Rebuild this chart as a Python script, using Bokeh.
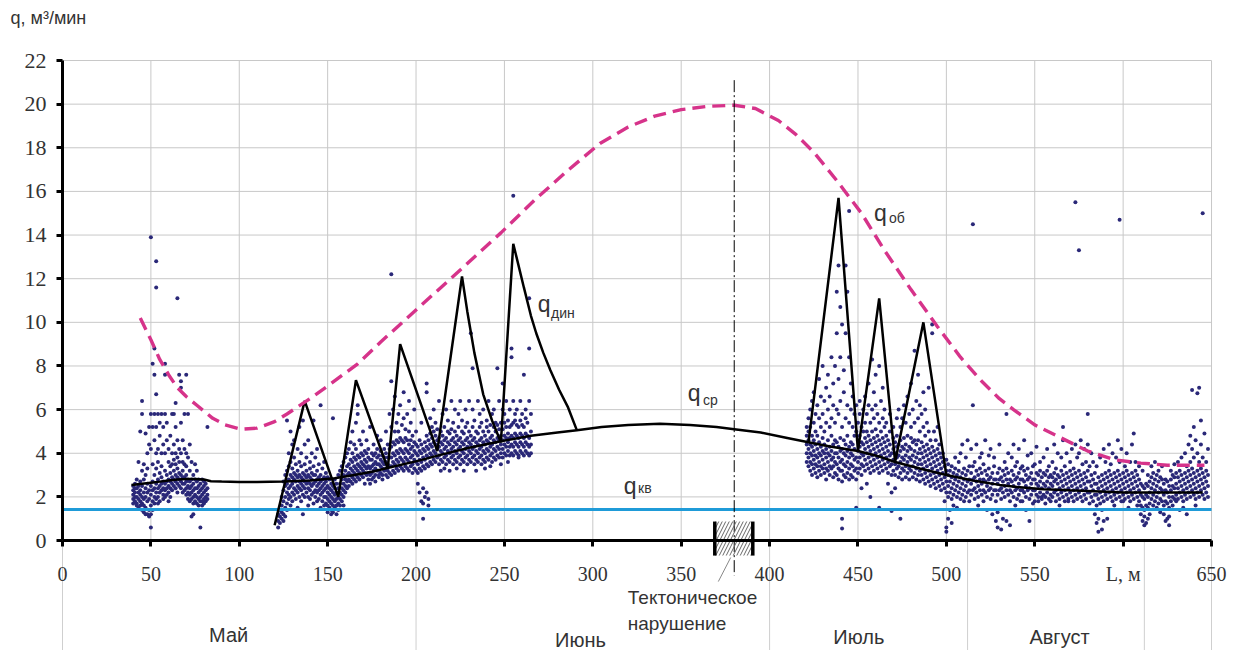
from bokeh.plotting import figure
from bokeh.models import Range1d, LinearAxis, FixedTicker, Label
from bokeh.core.properties import value
from bokeh.embed import file_html
from bokeh.resources import INLINE

# ---------------- data ----------------
x_ticks = [0, 50, 100, 150, 200, 250, 300, 350, 400, 450, 500, 550, 600, 650]
y_ticks = [0, 2, 4, 6, 8, 10, 12, 14, 16, 18, 20, 22]
month_bounds = [0, 200, 400, 512, 612, 650]
month_names = ["Май", "Июнь", "Июль", "Август"]
month_centers = [94, 293, 450.5, 564]
month_levels = [-4.35, -4.58, -4.40, -4.40]

q_kv = 1.42

q_ob_L = [44, 50, 55, 60, 65, 70, 76, 85, 92, 101, 110, 120, 127, 140, 152, 167, 180, 195,
          210, 225, 248, 267, 285, 304, 320, 335, 350, 365, 380, 392, 405, 415, 425, 438,
          452, 465, 480, 495, 508, 520, 530, 538, 550, 565, 580, 595, 610, 625, 646]
q_ob = [10.2, 9.2, 8.3, 7.6, 7.0, 6.6, 6.2, 5.6, 5.3, 5.1, 5.15, 5.45, 5.8, 6.5, 7.2, 8.1, 9.1, 10.2,
        11.3, 12.4, 14.1, 15.6, 16.9, 18.2, 18.95, 19.45, 19.75, 19.9, 19.95, 19.8, 19.25, 18.6, 17.8, 16.5,
        15.0, 13.3, 11.5, 9.8, 8.4, 7.3, 6.5, 6.0, 5.3, 4.7, 4.1, 3.7, 3.55, 3.45, 3.45]

q_sr_L = [39, 45, 50, 55, 60, 65, 70, 75, 80, 84, 90, 100, 110, 125, 140, 154, 165, 175, 185,
          201, 215, 230, 248, 265, 280, 291, 305, 320, 338, 355, 370, 380, 395, 410, 422, 435,
          450, 462, 471, 485, 500, 515, 530, 540, 555, 570, 587, 600, 620, 645]
q_sr = [2.55, 2.6, 2.65, 2.7, 2.75, 2.8, 2.82, 2.82, 2.8, 2.72, 2.7, 2.68, 2.68, 2.7, 2.75, 2.85, 3.0,
        3.15, 3.35, 3.65, 3.95, 4.25, 4.55, 4.8, 4.95, 5.05, 5.2, 5.3, 5.35, 5.3, 5.2, 5.1, 4.95, 4.7,
        4.5, 4.3, 4.1, 3.85, 3.6, 3.3, 3.0, 2.75, 2.55, 2.45, 2.35, 2.3, 2.25, 2.2, 2.2, 2.2]

q_din_L = [120, 137, 156, 166, 184, 191, 212, 226, 229, 233, 238, 243, 248, 255, 258, 261, 265,
           268, 272, 276, 281, 286, 291]
q_din = [0.7, 6.4, 2.0, 7.35, 3.3, 9.0, 4.1, 12.1, 10.5, 8.6, 6.7, 5.5, 4.5, 13.6, 12.6, 11.6, 10.3,
         9.5, 8.6, 7.8, 6.9, 6.1, 5.05]
q_din2_L = [422, 439, 450, 462, 471, 487, 500]
q_din2 = [4.5, 15.7, 4.1, 11.1, 3.6, 10.0, 3.0]

fault_L = 380
fault_start, fault_end = 369, 390.5

# measured points: (L, [q values at that L])
may_cols = [
    (40, [2.5, 2.3, 2.1, 1.9, 1.7]), (41, [2.6, 2.2, 2.0, 1.8, 2.4]), (42, [2.4, 2.0, 1.7, 1.6, 2.8]),
    (43, [2.5, 2.2, 1.9, 1.5, 3.6]), (44, [2.3, 2.1, 1.8, 1.6, 5.0, 2.7]),
    (45, [2.5, 2.0, 1.7, 1.4, 5.8, 6.4, 3.2]), (46, [2.2, 1.9, 1.6, 1.3, 2.8, 3.5]),
    (47, [2.4, 2.0, 1.5, 1.2, 4.9, 3.0]), (48, [2.6, 2.2, 1.8, 1.2, 4.0, 3.3]),
    (49, [2.3, 1.9, 1.4, 1.1, 4.4, 5.2]), (50, [2.5, 2.1, 1.6, 1.2, 13.9, 5.8, 4.2, 0.6]),
    (51, [2.7, 2.3, 1.8, 1.4, 5.2, 8.1, 3.5]), (52, [2.4, 2.0, 1.7, 4.6, 5.8, 7.6, 8.8, 3.0]),
    (53, [2.6, 2.2, 1.9, 12.8, 11.6, 5.2, 6.7, 4.0, 3.3]), (54, [2.8, 2.4, 2.0, 4.2, 5.8, 3.6, 1.7]),
    (55, [2.5, 2.2, 1.8, 4.8, 5.4, 3.1]), (56, [2.9, 2.6, 2.3, 4.0, 5.8, 3.4]),
    (57, [2.7, 2.4, 2.1, 4.4, 5.2, 1.9]), (58, [2.6, 2.3, 2.0, 8.1, 7.6, 4.0, 5.8, 3.2]),
    (59, [3.0, 2.7, 2.4, 2.1, 4.6, 5.4]), (60, [2.8, 2.5, 2.2, 3.6, 4.2, 1.8]),
    (61, [3.1, 2.7, 2.4, 3.4, 4.8, 2.0]), (62, [2.9, 2.6, 2.3, 4.0, 5.8, 3.5]),
    (63, [3.2, 2.8, 2.5, 3.7, 4.4, 5.8]), (64, [3.0, 2.7, 2.4, 6.3, 5.2, 3.5, 4.0]),
    (65, [3.3, 2.9, 2.6, 11.1, 4.6, 3.8, 2.2]), (66, [3.1, 2.8, 2.5, 7.6, 4.2, 3.6]),
    (67, [3.0, 2.7, 2.4, 7.0, 7.3, 4.0, 5.4]), (68, [3.2, 2.9, 2.6, 3.6, 4.6, 2.2]),
    (69, [2.9, 2.6, 2.3, 3.5, 4.2, 5.8]), (70, [3.0, 2.7, 2.4, 7.6, 4.0, 3.4, 2.1]),
    (71, [2.8, 2.5, 2.2, 3.8, 5.8, 1.9]), (72, [2.7, 2.4, 2.1, 1.8, 4.4, 3.2]),
    (73, [2.5, 2.2, 1.9, 1.1, 3.6, 2.8]), (74, [2.6, 2.3, 2.0, 1.2, 1.7, 3.0]),
    (75, [2.4, 2.1, 1.8, 2.8, 3.5]), (76, [2.7, 2.4, 2.0, 1.7, 3.2]), (77, [2.5, 2.2, 1.9, 2.8, 1.6]),
    (78, [2.6, 2.3, 2.0, 0.6, 1.8]), (79, [2.4, 2.1, 1.8, 1.6, 2.8]), (80, [2.5, 2.2, 1.9, 1.7, 2.7]),
    (81, [2.3, 2.0, 1.8, 2.6]), (82, [2.4, 2.1, 5.2, 1.9]),
]

june_cols = [
    (122, [0.6, 0.9, 1.2]), (123, [0.8, 1.4, 1.1]), (124, [1.0, 1.6, 2.0, 1.3]),
    (125, [1.2, 1.8, 2.3, 2.7, 0.9]), (126, [1.5, 2.0, 2.5, 3.0, 1.1]),
    (127, [1.7, 2.2, 2.6, 3.2, 5.5, 1.4]), (128, [1.9, 2.4, 2.8, 3.4, 4.0, 2.1]),
    (129, [2.0, 2.5, 3.0, 3.6, 5.0, 1.6]), (130, [2.2, 2.6, 2.9, 3.3, 4.4, 1.8]),
    (131, [2.1, 2.4, 2.8, 3.1, 3.8, 4.6]), (132, [2.3, 2.7, 3.0, 3.5, 1.9]),
    (133, [2.2, 2.5, 2.9, 3.2, 4.2, 1.5]), (134, [2.0, 2.4, 2.7, 3.0, 3.6, 5.2]),
    (135, [2.3, 2.6, 2.9, 3.4, 4.0, 1.8]), (136, [2.1, 2.5, 2.8, 3.1, 5.5, 1.2]),
    (137, [2.4, 2.7, 3.0, 3.5, 4.4, 2.0]), (138, [2.2, 2.6, 2.9, 3.2, 3.8]),
    (139, [2.0, 2.4, 2.7, 3.0, 4.6, 1.6]), (140, [2.3, 2.6, 2.9, 3.3, 3.6, 1.9]),
    (141, [2.1, 2.5, 2.8, 3.1, 4.0]), (142, [2.2, 2.6, 3.0, 3.4, 5.5, 1.7]),
    (143, [2.0, 2.3, 2.7, 3.0, 3.8]), (144, [2.2, 2.5, 2.8, 3.2, 4.2, 1.8]),
    (145, [1.9, 2.3, 2.6, 2.9, 3.5]), (146, [2.1, 2.4, 2.7, 3.0, 6.2, 1.5]),
    (147, [1.8, 2.2, 2.5, 2.8, 3.3]), (148, [2.0, 2.3, 2.6, 2.9, 3.6, 1.6]),
    (149, [1.7, 2.0, 2.4, 2.7, 3.1]), (150, [1.6, 1.9, 2.2, 2.5, 2.9, 1.3]),
    (151, [1.5, 1.8, 2.1, 2.4, 2.8]), (152, [1.4, 1.7, 2.0, 2.3, 2.6, 1.2]),
    (153, [1.6, 1.9, 2.2, 2.5, 5.6, 1.3]), (154, [1.5, 1.8, 2.1, 2.4, 2.8]),
    (155, [1.2, 1.6, 1.9, 2.2, 2.6]), (156, [1.4, 1.7, 2.0, 2.4, 3.0]),
    (157, [1.6, 1.9, 2.2, 2.6, 3.2]), (158, [1.8, 2.1, 2.4, 2.8, 3.4]),
    (159, [2.0, 2.3, 2.6, 3.0, 3.6, 1.6]), (160, [2.2, 2.5, 2.8, 3.2, 3.8]),
    (161, [2.4, 2.7, 3.0, 3.4, 4.0]), (162, [2.5, 2.8, 3.1, 3.5, 4.2]),
    (163, [2.7, 3.0, 3.3, 3.7, 4.5]), (164, [2.6, 2.9, 3.2, 3.6, 4.0, 5.0]),
    (165, [2.8, 3.1, 3.4, 3.8, 4.4]), (166, [2.7, 3.0, 3.3, 3.7, 4.2, 5.4]),
    (167, [2.9, 3.2, 3.5, 3.9, 6.2, 5.8]), (168, [2.8, 3.1, 3.4, 3.8, 4.6]),
    (169, [3.0, 3.3, 3.6, 4.0, 4.4]), (170, [2.9, 3.2, 3.5, 3.9, 5.0]),
    (171, [3.1, 3.4, 3.7, 4.1, 2.6]), (172, [3.0, 3.3, 3.6, 4.0, 4.6]),
    (173, [2.8, 3.1, 3.4, 3.8, 4.2]), (174, [2.6, 3.0, 3.3, 3.7, 5.2]),
    (175, [3.1, 3.4, 3.7, 4.0, 2.8]), (176, [2.9, 3.2, 3.5, 3.9, 4.4]),
    (177, [3.0, 3.3, 3.6, 4.0, 2.7]), (178, [3.2, 3.5, 3.8, 4.2, 4.8]),
    (179, [2.9, 3.2, 3.5, 3.9, 3.0]), (180, [3.1, 3.4, 3.7, 4.1, 4.6]),
    (181, [3.0, 3.3, 3.6, 3.9, 2.8]), (182, [3.2, 3.5, 3.8, 4.2]),
    (183, [3.0, 3.3, 3.6, 4.0, 5.0]), (184, [2.9, 3.2, 3.5, 3.8, 4.4]),
    (185, [3.1, 3.4, 3.8, 4.2, 5.8]), (186, [3.0, 3.4, 3.8, 4.3, 12.2, 7.3, 5.2]),
    (187, [3.2, 3.6, 4.0, 4.5, 6.0]), (188, [3.1, 3.5, 3.9, 4.4, 5.0, 6.6]),
    (189, [3.3, 3.7, 4.1, 4.6, 5.4]), (190, [3.2, 3.6, 4.0, 4.5, 5.0, 5.8]),
    (191, [3.4, 3.8, 4.2, 4.7, 6.2]), (192, [3.3, 3.7, 4.1, 4.6, 5.3]),
    (193, [3.2, 3.6, 4.0, 4.5, 5.6, 6.8]), (194, [3.4, 3.8, 4.2, 4.7, 5.1]),
    (195, [3.3, 3.7, 4.1, 4.6, 5.8]), (196, [3.2, 3.6, 4.0, 4.4, 6.4, 5.0]),
    (197, [3.4, 3.8, 4.2, 4.6, 5.4]), (198, [3.1, 3.5, 3.9, 4.3, 4.8]),
    (199, [3.3, 3.7, 4.1, 4.5, 6.0]), (200, [3.2, 3.6, 4.0, 4.4, 5.0]),
    (201, [3.1, 3.5, 3.9, 4.3, 2.6]), (202, [3.3, 3.7, 4.1, 4.6, 2.2]),
    (203, [3.2, 3.6, 4.0, 4.4, 1.8, 5.4]), (204, [3.4, 3.8, 4.2, 2.4, 1.7, 1.0]),
    (205, [3.3, 3.7, 4.1, 4.5, 2.0]), (206, [3.5, 3.9, 4.3, 4.8, 2.2, 7.2, 6.8]),
    (207, [3.4, 3.8, 4.2, 4.6, 1.9, 1.6]), (208, [3.6, 4.0, 4.4, 4.9, 5.6]),
    (209, [3.5, 3.9, 4.3, 4.7, 5.2]), (210, [3.7, 4.1, 4.5, 5.0, 6.0]),
    (211, [3.6, 4.0, 4.4, 4.8, 5.4]), (212, [3.8, 4.2, 4.6, 5.1]),
    (213, [3.5, 3.9, 4.3, 4.7, 6.4]), (214, [3.7, 4.1, 4.5, 5.0, 3.2]),
    (215, [3.6, 4.0, 4.4, 4.8, 5.8]), (216, [3.8, 4.2, 4.6, 5.2, 3.3]),
    (217, [3.5, 3.9, 4.3, 4.7, 6.0]), (218, [3.7, 4.1, 4.5, 5.0, 5.5]),
    (219, [3.6, 4.0, 4.4, 4.9, 3.2]), (220, [3.8, 4.2, 4.6, 5.1, 6.4]),
    (221, [3.5, 3.9, 4.3, 4.7, 5.4]), (222, [3.7, 4.1, 4.5, 5.0, 6.0]),
    (223, [3.6, 4.0, 4.4, 4.8, 3.3]), (224, [3.8, 4.2, 4.6, 5.2, 5.8]),
    (225, [3.5, 3.9, 4.3, 4.7, 6.4]), (226, [3.7, 4.1, 4.5, 5.0, 5.5]),
    (227, [3.6, 4.0, 4.4, 4.9, 3.2]), (228, [3.8, 4.2, 4.6, 5.2, 6.0]),
    (229, [3.5, 3.9, 4.3, 4.7, 5.4]), (230, [3.7, 4.1, 4.5, 5.0, 6.4]),
    (231, [3.6, 4.0, 4.4, 4.8, 9.5]), (232, [3.8, 4.2, 4.6, 5.2, 7.9, 6.0]),
    (233, [3.5, 3.9, 4.3, 4.7, 5.5]), (234, [3.7, 4.1, 4.5, 5.0, 3.2]),
    (235, [3.6, 4.0, 4.4, 4.9, 6.4]), (236, [3.8, 4.2, 4.6, 5.2, 5.8]),
    (237, [3.5, 3.9, 4.3, 4.7, 5.4]), (238, [3.7, 4.1, 4.5, 5.0, 6.0]),
    (239, [3.6, 4.0, 4.4, 4.8, 3.3]), (240, [3.8, 4.2, 4.6, 5.2, 5.5]),
    (241, [3.7, 4.1, 4.5, 5.0, 6.4]), (242, [3.9, 4.3, 4.7, 5.3, 3.4]),
    (243, [3.6, 4.0, 4.4, 4.8, 5.8]), (244, [3.8, 4.2, 4.6, 5.2, 6.0]),
    (245, [3.7, 4.1, 4.5, 5.0, 5.4]), (246, [3.9, 4.3, 4.7, 5.3, 7.9]),
    (247, [3.8, 4.2, 4.6, 5.1, 6.4]), (248, [4.0, 4.4, 4.8, 5.4, 3.5]),
    (249, [3.8, 4.2, 4.6, 5.1, 7.2, 6.0]), (250, [4.0, 4.4, 4.8, 5.4, 5.8]),
    (251, [3.9, 4.3, 4.7, 5.2, 6.4]), (252, [4.1, 4.5, 4.9, 5.5, 3.6]),
    (253, [3.9, 4.3, 4.7, 5.2, 6.0]), (254, [4.0, 4.4, 4.8, 5.3, 8.8, 8.4]),
    (255, [3.9, 4.3, 4.7, 5.4, 15.8, 6.4]), (256, [4.1, 4.5, 4.9, 5.5, 5.8]),
    (257, [4.0, 4.4, 4.8, 5.3, 6.0]), (258, [3.9, 4.3, 4.7, 5.2, 3.8]),
    (259, [4.1, 4.5, 4.9, 5.5, 6.4]), (260, [4.0, 4.4, 4.8, 5.3, 5.8]),
    (261, [3.9, 4.3, 4.7, 5.2, 7.6]), (262, [4.1, 4.5, 4.9, 5.6, 6.0]),
    (263, [4.0, 4.4, 4.8, 5.4]), (264, [3.9, 4.3, 4.7, 11.1, 8.8, 6.4]),
    (265, [4.0, 4.4, 5.0, 5.8]),
]

july_cols = [
    (421, [4.0, 4.4, 4.8, 5.2, 3.6]), (422, [3.4, 3.8, 4.2, 4.6, 5.0, 5.6]),
    (423, [3.2, 3.6, 4.0, 4.4, 5.2, 6.0]), (424, [3.0, 3.5, 3.9, 4.3, 4.8, 6.4]),
    (425, [3.3, 3.7, 4.1, 4.6, 5.4, 6.8]), (426, [3.1, 3.5, 3.9, 4.4, 5.0, 5.8]),
    (427, [2.9, 3.4, 3.8, 4.2, 4.8, 6.2]), (428, [3.2, 3.6, 4.0, 4.5, 5.6, 7.4]),
    (429, [3.0, 3.4, 3.9, 4.3, 5.2, 6.6]), (430, [3.3, 3.7, 4.1, 4.7, 5.8, 8.0]),
    (431, [3.1, 3.5, 4.0, 4.4, 5.0, 6.4]), (432, [2.8, 3.3, 3.8, 4.2, 5.4, 7.0]),
    (433, [3.2, 3.6, 4.0, 4.6, 6.0, 7.6]), (434, [3.0, 3.4, 3.9, 4.3, 5.2, 6.6]),
    (435, [3.3, 3.7, 4.1, 4.8, 5.6, 8.4]), (436, [2.9, 3.4, 3.8, 4.4, 6.2, 7.2]),
    (437, [3.1, 3.6, 4.0, 4.6, 5.4, 8.0]), (438, [3.0, 3.5, 4.0, 4.5, 6.0, 9.5, 11.4]),
    (439, [2.8, 3.3, 3.8, 4.3, 5.8, 7.4, 12.6]), (440, [3.2, 3.6, 4.1, 4.7, 6.4, 8.4, 10.7]),
    (441, [2.7, 3.2, 3.7, 4.2, 5.2, 1.0, 0.55, 9.9]), (442, [3.0, 3.5, 4.0, 4.6, 6.8, 7.8]),
    (443, [2.9, 3.4, 3.9, 4.4, 5.6, 9.5, 12.6]), (444, [3.1, 3.6, 4.1, 4.8, 6.2, 11.4]),
    (445, [2.8, 3.3, 3.8, 4.3, 5.4, 15.1, 8.4]), (446, [3.0, 3.5, 4.0, 4.5, 6.0, 7.2]),
    (447, [2.9, 3.4, 3.9, 4.4, 5.2, 6.6]), (448, [3.2, 3.7, 4.2, 4.8, 5.8]),
    (449, [2.8, 3.3, 3.8, 1.5, 5.0, 6.2]), (450, [3.1, 3.6, 4.1, 4.6, 5.4]),
    (451, [3.3, 3.8, 4.3, 4.8, 5.8, 6.4]), (452, [3.0, 3.5, 4.0, 4.5, 5.2, 2.4]),
    (453, [3.4, 3.9, 4.4, 5.0, 6.0]), (454, [3.2, 3.7, 4.2, 4.7, 5.4, 6.6]),
    (455, [3.5, 4.0, 4.5, 5.0, 5.8, 2.6]), (456, [3.3, 3.8, 4.3, 4.8, 6.2, 7.2]),
    (457, [3.1, 3.6, 4.1, 4.6, 5.4, 2.0]), (458, [3.4, 3.9, 4.4, 5.0, 6.0, 8.3]),
    (459, [3.2, 3.7, 4.2, 4.7, 5.6, 6.8]), (460, [3.5, 4.0, 4.5, 5.1, 6.2, 7.6]),
    (461, [3.3, 3.8, 4.3, 4.8, 5.8]), (462, [3.1, 3.6, 4.1, 4.6, 5.4, 1.5, 8.0]),
    (463, [3.4, 3.9, 4.4, 5.0, 6.4]), (464, [3.2, 3.7, 4.2, 4.7, 5.6, 7.0]),
    (465, [3.5, 4.0, 4.5, 5.2, 6.0]), (466, [3.3, 3.8, 4.3, 4.8, 5.4]),
    (467, [3.1, 3.6, 4.1, 4.6, 2.6]), (468, [3.4, 3.9, 4.4, 5.0, 5.8]),
    (469, [3.0, 3.5, 4.0, 1.35, 2.2]), (470, [3.2, 3.7, 4.2, 4.7, 5.2]),
    (471, [3.0, 3.5, 4.0, 4.5, 2.4]), (472, [3.3, 3.8, 4.3, 4.8, 5.6]),
    (473, [2.9, 3.4, 3.9, 4.4, 6.0]), (474, [3.1, 3.6, 4.1, 4.6, 1.0, 5.2]),
    (475, [2.8, 3.3, 3.8, 4.3, 5.6]), (476, [3.2, 3.7, 4.2, 4.7, 6.2]),
    (477, [2.9, 3.4, 3.9, 4.4, 5.4]), (478, [3.1, 3.6, 4.1, 4.8, 6.6]),
    (479, [2.8, 3.3, 3.8, 4.3, 5.8]), (480, [3.2, 3.7, 4.2, 4.7, 5.2, 7.2]),
    (481, [2.9, 3.4, 3.9, 4.5, 6.0]), (482, [3.1, 3.6, 4.1, 4.6, 5.4, 8.7]),
    (483, [2.8, 3.3, 3.8, 4.4, 6.4]), (484, [3.0, 3.5, 4.0, 4.6, 5.6, 7.6]),
    (485, [2.7, 3.2, 3.7, 4.2, 5.0, 6.2]), (486, [3.0, 3.5, 4.0, 4.5, 5.8]),
    (487, [2.8, 3.3, 3.8, 4.3, 5.2, 6.8]), (488, [2.6, 3.1, 3.6, 4.1, 4.8, 6.0]),
    (489, [2.9, 3.4, 3.9, 4.4, 5.4]), (490, [2.7, 3.2, 3.7, 4.2, 5.0, 7.0]),
    (491, [2.5, 3.0, 3.5, 4.0, 4.6]), (492, [2.8, 3.3, 3.8, 4.3, 9.5, 9.9]),
    (493, [2.6, 3.1, 3.6, 4.1, 5.0]), (494, [2.4, 2.9, 3.4, 3.9, 4.6]),
    (495, [2.7, 3.2, 3.7, 4.2, 5.2]), (496, [2.5, 3.0, 3.5, 4.0, 4.4]),
    (497, [2.3, 2.8, 3.3, 3.8]), (498, [2.6, 3.1, 3.6, 4.0]),
    (499, [2.4, 2.9, 3.4, 1.8]), (500, [2.2, 2.7, 3.2, 0.4, 0.6, 3.7]),
]

august_cols = [
    (501, [2.0, 2.5, 3.0, 3.5, 1.0]), (502, [2.2, 2.7, 3.2, 1.4]), (503, [1.9, 2.4, 2.9, 3.4, 0.8]),
    (504, [2.1, 2.6, 3.1, 1.6]), (505, [2.3, 2.8, 3.3, 3.8]), (506, [2.0, 2.5, 3.0, 1.5]),
    (507, [2.2, 2.7, 3.2, 3.6]), (508, [1.9, 2.4, 2.9, 4.0]), (509, [2.1, 2.6, 3.1, 4.4]),
    (510, [2.3, 2.8, 3.3, 1.8]), (511, [2.0, 2.5, 3.0, 3.8]), (512, [2.2, 2.7, 3.2, 4.6]),
    (513, [1.8, 2.3, 2.8, 3.4]), (514, [2.1, 2.6, 3.1, 4.2]), (515, [2.3, 2.8, 3.4, 6.2, 14.5]),
    (516, [1.9, 2.4, 2.9, 3.6]), (517, [2.2, 2.7, 3.2, 4.4]), (518, [2.0, 2.5, 3.0, 1.6]),
    (519, [2.3, 2.8, 3.3, 3.8]), (520, [2.1, 2.6, 3.1, 4.0]), (521, [1.8, 2.3, 2.8, 3.5]),
    (522, [2.2, 2.7, 3.2, 4.6]), (523, [2.0, 2.5, 3.0, 1.4]), (524, [2.3, 2.8, 3.3, 3.9]),
    (525, [1.9, 2.4, 2.9, 4.2]), (526, [2.1, 2.6, 3.1, 1.2]), (527, [2.3, 2.8, 3.4, 3.8]),
    (528, [1.8, 2.3, 2.8, 0.9]), (529, [2.1, 2.6, 3.1, 0.6, 1.3]), (530, [2.3, 2.8, 3.3, 4.4]),
    (531, [1.9, 2.4, 2.9, 0.5]), (532, [2.2, 2.7, 3.2, 1.0]), (533, [2.0, 2.5, 3.0, 3.6]),
    (534, [2.3, 2.8, 3.3, 5.8, 0.9]), (535, [2.1, 2.6, 3.1, 4.0]), (536, [1.8, 2.3, 2.8, 0.7]),
    (537, [2.2, 2.7, 3.2, 3.8]), (538, [2.0, 2.5, 3.0, 4.4]), (539, [2.3, 2.8, 3.4, 1.6]),
    (540, [1.9, 2.4, 2.9, 3.6]), (541, [2.1, 2.6, 3.1, 4.2]), (542, [2.3, 2.8, 3.3, 1.8]),
    (543, [1.8, 2.3, 2.8, 3.4]), (544, [2.2, 2.7, 3.2, 4.6]), (545, [2.0, 2.5, 3.0, 1.4]),
    (546, [2.3, 2.8, 3.3, 3.9]), (547, [1.9, 2.4, 2.9, 0.9]), (548, [2.1, 2.6, 3.1, 4.0]),
    (549, [2.3, 2.8, 3.4, 1.7]), (550, [1.8, 2.3, 2.8, 3.5]), (551, [2.1, 2.6, 3.1, 4.3]),
    (552, [2.0, 2.5, 3.0, 1.8]), (553, [2.2, 2.7, 3.2, 3.6]), (554, [1.9, 2.4, 2.9, 2.0]),
    (555, [2.1, 2.6, 3.1, 3.8]), (556, [2.0, 2.5, 3.0, 1.7]), (557, [2.2, 2.7, 3.2, 4.2]),
    (558, [1.9, 2.4, 2.9, 3.4]), (559, [2.1, 2.6, 3.0, 1.8]), (560, [2.0, 2.5, 2.9, 3.6]),
    (561, [2.2, 2.7, 3.1, 4.4]), (562, [1.8, 2.3, 2.8, 3.3]), (563, [2.1, 2.6, 3.0, 4.0]),
    (564, [1.9, 2.4, 2.9, 1.6]), (565, [2.2, 2.7, 3.2, 3.8]), (566, [2.0, 2.5, 3.0, 5.2, 4.6]),
    (567, [1.8, 2.3, 2.8, 3.4]), (568, [2.1, 2.6, 3.1, 4.0]), (569, [1.9, 2.4, 2.9, 1.8]),
    (570, [2.2, 2.7, 3.2, 3.6]), (571, [2.0, 2.5, 3.0, 4.2]), (572, [1.8, 2.3, 2.8, 3.3]),
    (573, [2.1, 2.6, 3.1, 15.5, 4.4]), (574, [1.9, 2.4, 2.9, 3.8]), (575, [2.2, 2.7, 3.2, 13.3, 4.0]),
    (576, [2.0, 2.5, 3.0, 4.6]), (577, [1.8, 2.3, 2.8, 3.5]), (578, [2.1, 2.6, 3.1, 4.2]),
    (579, [1.9, 2.4, 2.9, 3.6]), (580, [2.2, 2.7, 3.2, 5.8, 4.4]), (581, [1.7, 2.2, 2.7, 3.4]),
    (582, [2.0, 2.5, 3.0, 4.0]), (583, [1.8, 2.3, 2.8, 3.6]), (584, [2.1, 2.6, 3.1, 1.2]),
    (585, [1.6, 2.1, 2.6, 3.4, 0.8]), (586, [1.9, 2.4, 2.9, 0.4, 1.0]), (587, [1.7, 2.2, 2.7, 3.8]),
    (588, [2.0, 2.5, 3.0, 0.5, 1.4]), (589, [1.8, 2.3, 2.8, 4.2, 0.9]), (590, [2.1, 2.6, 3.1, 3.6]),
    (591, [1.9, 2.4, 2.9, 1.0]), (592, [2.2, 2.7, 3.2, 4.4]), (593, [2.0, 2.5, 3.0, 3.5]),
    (594, [1.8, 2.3, 2.8, 4.0]), (595, [2.1, 2.6, 3.1, 1.6]), (596, [1.9, 2.4, 2.9, 3.8]),
    (597, [2.2, 2.7, 3.2, 4.6]), (598, [2.0, 2.5, 3.0, 14.7, 3.6]), (599, [1.8, 2.3, 2.8, 4.2]),
    (600, [2.1, 2.6, 3.1, 1.8]), (601, [1.9, 2.4, 2.9, 3.4]), (602, [2.2, 2.7, 3.2, 4.0]),
    (603, [2.0, 2.5, 3.0, 1.5]), (604, [1.8, 2.3, 2.8, 3.6]), (605, [2.1, 2.6, 3.1, 4.4]),
    (606, [1.9, 2.4, 2.9, 4.9]), (607, [2.2, 2.7, 3.2, 3.6]), (608, [2.0, 2.5, 3.0, 1.6]),
    (609, [1.8, 2.3, 2.8, 3.4]), (610, [1.6, 2.1, 2.6, 1.2]), (611, [1.5, 2.0, 2.5, 0.9, 3.2]),
    (612, [1.4, 1.9, 2.4, 0.7, 1.1]), (613, [1.6, 2.1, 2.6, 0.8]), (614, [1.5, 2.0, 2.5, 1.0, 3.0]),
    (615, [1.7, 2.2, 2.7, 1.2]), (616, [1.9, 2.4, 2.9, 3.4]), (617, [2.1, 2.6, 3.1, 1.6]),
    (618, [1.8, 2.3, 2.8, 3.6]), (619, [2.0, 2.5, 3.0, 1.5]), (620, [1.7, 2.2, 2.7, 3.2]),
    (621, [1.9, 2.4, 2.9, 1.3]), (622, [1.8, 2.3, 2.8, 3.4]), (623, [1.6, 2.1, 2.6, 1.2]),
    (624, [1.8, 2.3, 2.8, 0.9]), (625, [1.7, 2.2, 2.7, 1.0]), (626, [1.5, 2.0, 2.5, 0.7, 1.1]),
    (627, [1.8, 2.3, 2.8, 3.2]), (628, [2.0, 2.5, 3.0, 1.6]), (629, [1.9, 2.4, 2.9, 3.5]),
    (630, [2.1, 2.6, 3.1, 1.8]), (631, [1.9, 2.4, 2.9, 3.6]), (632, [2.2, 2.7, 3.2, 1.4]),
    (633, [2.0, 2.5, 3.0, 3.8]), (634, [1.8, 2.3, 2.8, 1.5]), (635, [2.1, 2.6, 3.1, 4.0]),
    (636, [1.9, 2.4, 2.9, 3.4, 1.2]), (637, [2.2, 2.7, 3.2, 4.4]), (638, [2.0, 2.5, 3.0, 3.6, 4.8]),
    (639, [2.3, 2.8, 3.3, 6.9, 4.2]), (640, [2.1, 2.6, 3.1, 3.8, 5.2]), (641, [1.9, 2.4, 2.9, 4.6, 1.6]),
    (642, [2.2, 2.7, 3.2, 4.0, 6.75]), (643, [2.0, 2.5, 3.0, 7.0, 3.6]), (644, [2.3, 2.8, 3.3, 4.4, 5.5]),
    (645, [2.1, 2.6, 3.1, 15.0, 3.8]), (646, [1.9, 2.4, 2.9, 4.9]), (647, [2.2, 2.7, 3.2, 3.6]),
    (648, [2.0, 2.5, 3.0, 4.2]),
]

# ---------------- figure ----------------
TXT = "#333333"
SANS = "Liberation Sans"
SERIF = "Liberation Serif"
GRID = "#c8c8c8"

# frame fills the whole page; L = 0..650 maps to x = 62..1211 px, q = 0..22 to y = 540..60 px
p = figure(width=1234, height=650, output_backend="svg", toolbar_location=None,
           x_range=Range1d(-35.07, 663.0), y_range=Range1d(-5.04, 24.75),
           x_axis_location=None, y_axis_location=None,
           min_border_left=0, min_border_right=0, min_border_top=0, min_border_bottom=0)
p.outline_line_color = None
p.background_fill_color = "white"
p.border_fill_color = "white"
p.xgrid.visible = False
p.ygrid.visible = False

# grid lines (plot area) and month separators (band below)
p.segment(x0=[0] * (len(y_ticks) - 1), y0=y_ticks[1:], x1=[650] * (len(y_ticks) - 1), y1=y_ticks[1:],
          line_color=GRID, line_width=1)
p.segment(x0=x_ticks[1:], y0=[0] * (len(x_ticks) - 1), x1=x_ticks[1:], y1=[22] * (len(x_ticks) - 1),
          line_color=GRID, line_width=1)
p.segment(x0=month_bounds, y0=[0] * len(month_bounds), x1=month_bounds, y1=[-5.04] * len(month_bounds),
          line_color="#cfcfcf", line_width=1)

# scatter of measurements
def flatten(cols):
    xs, ys = [], []
    for L, qs in cols:
        for q in qs:
            xs.append(L)
            ys.append(q)
    return xs, ys

for cols in (may_cols, june_cols, july_cols, august_cols):
    xs, ys = flatten(cols)
    p.scatter(xs, ys, size=4, marker="circle", fill_color="#2a2878", line_color=None)

# q_kv
p.line([0, 650], [q_kv, q_kv], line_color="#1f9bd8", line_width=3)
# q_sr
p.line(q_sr_L, q_sr, line_color="black", line_width=2.5)
# q_din
p.line(q_din_L, q_din, line_color="black", line_width=2.5)
p.line(q_din2_L, q_din2, line_color="black", line_width=2.5)
# q_ob
p.line(q_ob_L, q_ob, line_color="#d6338a", line_width=3.4, line_dash="13 7")

# tectonic fault
p.line([fault_L, fault_L], [21.1, -1.6], line_color="black", line_width=1, line_dash="12 3 2 3")
p.quad(left=[fault_start], right=[fault_end], bottom=[-0.69], top=[0.87],
       fill_alpha=0, line_color=None, hatch_pattern="/", hatch_color="#666666",
       hatch_scale=7, hatch_weight=1)
p.segment(x0=[fault_start, fault_end], y0=[-0.69, -0.69], x1=[fault_start, fault_end], y1=[0.87, 0.87],
          line_color="black", line_width=3.5)
p.line([378, 371], [-0.78, -1.88], line_color="#888888", line_width=1)
p.text(x=[319.8, 319.8], y=[-2.61, -3.80], text=["Тектоническое", "нарушение"],
       text_font=value(SANS), text_font_size="19px", text_color=TXT,
       text_align="left", text_baseline="middle")

# month names
p.text(x=month_centers, y=month_levels, text=month_names, text_font=value(SANS),
       text_font_size="20px", text_color=TXT, text_align="center", text_baseline="middle")

# curve labels: q with subscripts
lab_q_x = [268.8, 353.7, 317.5, 459.0]
lab_q_y = [10.86, 6.78, 2.52, 14.99]
lab_sub_x = [276.4, 362.4, 325.6, 467.6]
lab_sub_y = [10.42, 6.42, 2.40, 14.78]
lab_sub = ["дин", "ср", "кв", "об"]
p.text(x=lab_q_x, y=lab_q_y, text=["q"] * 4, text_font=value(SANS), text_font_size="23px",
       text_color=TXT, text_align="left", text_baseline="alphabetic")
p.text(x=lab_sub_x, y=lab_sub_y, text=lab_sub, text_font=value(SANS), text_font_size="14px",
       text_color=TXT, text_align="left", text_baseline="alphabetic")

# axes crossing at the origin
def style_axis(ax, size):
    ax.axis_line_width = 3
    ax.axis_line_color = "black"
    ax.major_tick_line_width = 3
    ax.major_tick_line_color = "black"
    ax.major_tick_out = 6
    ax.major_tick_in = 0
    ax.minor_tick_line_color = None
    ax.major_label_text_font = SERIF
    ax.major_label_text_font_size = size
    ax.major_label_text_color = TXT

yax = LinearAxis(fixed_location=0, ticker=FixedTicker(ticks=y_ticks), bounds=(0, 22))
style_axis(yax, "22px")
yax.major_label_standoff = 10
p.add_layout(yax, "left")

xax = LinearAxis(fixed_location=0, ticker=FixedTicker(ticks=x_ticks), bounds=(0, 650))
style_axis(xax, "20px")
xax.major_label_standoff = 16
xax.major_label_overrides = {600: "L, м"}
p.add_layout(xax, "below")

# y axis title
p.add_layout(Label(x=-29.4, y=23.97, text="q, м³/мин", text_font=SANS, text_font_size="18px",
                   text_color=TXT, text_baseline="middle", text_align="left"))

open("out.html", "w").write(file_html(p, INLINE))
